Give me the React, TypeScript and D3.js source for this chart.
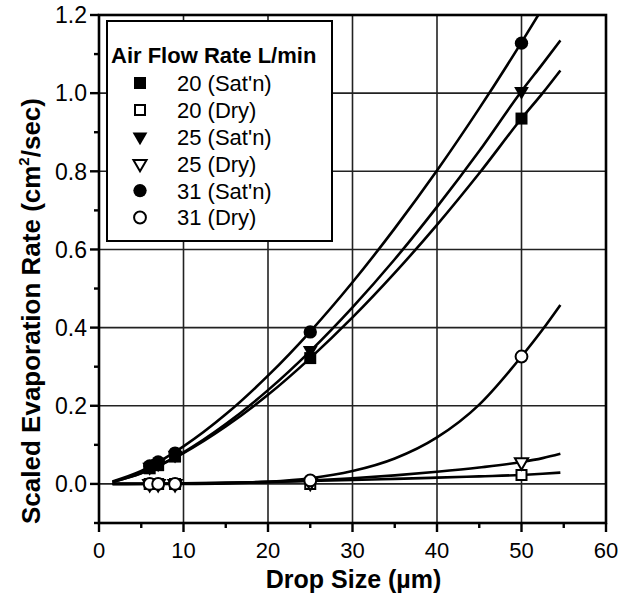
import React from "react";
import * as d3 from "d3";

// ---- data ----
const dropSizes = [6, 7, 9, 25, 50];
const sat20 = [0.040, 0.048, 0.070, 0.322, 0.935];
const dry20 = [0.0, 0.0, 0.0, 0.0, 0.023];
const sat25 = [0.043, 0.052, 0.074, 0.342, 1.005];
const dry25 = [0.0, 0.0, 0.0, 0.003, 0.056];
const sat31 = [0.046, 0.056, 0.079, 0.389, 1.128];
const dry31 = [0.0, 0.0, 0.0, 0.009, 0.326];

// fitted curves
const curveX = [1.6, 5, 10, 15, 20, 25, 30, 35, 40, 45, 50, 52.5, 54.6];
const fitSat20 = [0.005, 0.027, 0.079, 0.147, 0.228, 0.322, 0.426, 0.540, 0.663, 0.795, 0.935, 1.000, 1.058];
const fitSat25 = [0.005, 0.028, 0.081, 0.153, 0.240, 0.340, 0.452, 0.575, 0.709, 0.852, 1.005, 1.075, 1.135];
const fitSat31 = [0.006, 0.033, 0.096, 0.178, 0.277, 0.390, 0.516, 0.654, 0.802, 0.961, 1.130, 1.218, 1.293];
const fitDry20 = [0.0, 0.0005, 0.0017, 0.0032, 0.0052, 0.0074, 0.010, 0.0129, 0.016, 0.0194, 0.023, 0.026, 0.029];
const fitDry25 = [0.0, 0.0002, 0.0008, 0.0023, 0.0049, 0.0089, 0.0145, 0.0218, 0.031, 0.042, 0.056, 0.066, 0.077];
const fitDry31 = [0.0, 0.0, 0.0002, 0.0014, 0.0053, 0.0144, 0.0328, 0.065, 0.119, 0.203, 0.326, 0.395, 0.458];

const xTicks = [0, 10, 20, 30, 40, 50, 60];
const xMinor = [5, 15, 25, 35, 45, 55];
const yTicks = [0.0, 0.2, 0.4, 0.6, 0.8, 1.0, 1.2];
const yMinor = [-0.1, 0.1, 0.3, 0.5, 0.7, 0.9, 1.1];
const xGrid = [10, 20, 30, 40, 50];
const yGrid = [0.0, 0.2, 0.4, 0.6, 0.8, 1.0];

const legendTitle = "Air Flow Rate L/min";
const legendLabels = ["20 (Sat'n)", "20 (Dry)", "25 (Sat'n)", "25 (Dry)", "31 (Sat'n)", "31 (Dry)"];

const W = 620, H = 601;
const L = 99, R = 606, T = 15, B = 523;
const FONT = "'Liberation Sans', Arial, Helvetica, sans-serif";

type Kind = "square" | "tri" | "circle";

function Marker({ kind, filled, x, y }: { kind: Kind; filled: boolean; x: number; y: number }) {
  const fill = filled ? "#000" : "#fff";
  const stroke = "#000";
  const sw = filled ? 0 : 2;
  if (kind === "square") {
    const size = filled ? 144 : 100;
    const p = d3.symbol().type(d3.symbolSquare).size(size)() as string;
    return <path d={p} transform={`translate(${x},${y})`} fill={fill} stroke={stroke} strokeWidth={sw} />;
  }
  if (kind === "circle") {
    const size = filled ? 140 : 110;
    const p = d3.symbol().type(d3.symbolCircle).size(size)() as string;
    return <path d={p} transform={`translate(${x},${y})`} fill={fill} stroke={stroke} strokeWidth={sw} />;
  }
  const size = filled ? 95 : 75;
  const p = d3.symbol().type(d3.symbolTriangle).size(size)() as string;
  return <path d={p} transform={`translate(${x},${y}) rotate(180)`} fill={fill} stroke={stroke} strokeWidth={sw} strokeLinejoin="miter" />;
}

export default function App() {
  const x = d3.scaleLinear().domain([0, 60]).range([L, R]);
  const y = d3.scaleLinear().domain([-0.1, 1.2]).range([B, T]);
  const line = d3
    .line<[number, number]>()
    .x((d) => x(d[0]))
    .y((d) => y(d[1]))
    .curve(d3.curveMonotoneX);

  const fits = [fitSat20, fitSat25, fitSat31, fitDry20, fitDry25, fitDry31];
  const series: { vals: number[]; kind: Kind; filled: boolean }[] = [
    { vals: sat20, kind: "square", filled: true },
    { vals: dry20, kind: "square", filled: false },
    { vals: sat25, kind: "tri", filled: true },
    { vals: dry25, kind: "tri", filled: false },
    { vals: sat31, kind: "circle", filled: true },
    { vals: dry31, kind: "circle", filled: false },
  ];

  return (
    <svg width={W} height={H} style={{ display: "block", position: "absolute", left: 0, top: 0 }} fontFamily={FONT}>
      <rect x={0} y={0} width={W} height={H} fill="#fff" />
      <defs>
        <clipPath id="plotClip">
          <rect x={L} y={T} width={R - L} height={B - T} />
        </clipPath>
      </defs>
      {/* grid */}
      {xGrid.map((v) => (
        <line key={"gx" + v} x1={x(v)} x2={x(v)} y1={T} y2={B} stroke="#222" strokeWidth={1.6} />
      ))}
      {yGrid.map((v) => (
        <line key={"gy" + v} x1={L} x2={R} y1={y(v)} y2={y(v)} stroke="#222" strokeWidth={1.6} />
      ))}
      {/* fitted curves */}
      <g clipPath="url(#plotClip)">
        {fits.map((f, i) => (
          <path
            key={"f" + i}
            d={line(curveX.map((cx, j) => [cx, f[j]] as [number, number])) as string}
            fill="none"
            stroke="#000"
            strokeWidth={2.6}
          />
        ))}
      </g>
      {/* markers */}
      {series.map((s, i) =>
        s.vals.map((v, j) => (
          <Marker key={"m" + i + "_" + j} kind={s.kind} filled={s.filled} x={x(dropSizes[j])} y={y(v)} />
        ))
      )}
      {/* frame */}
      <rect x={L} y={T} width={R - L} height={B - T} fill="none" stroke="#000" strokeWidth={2.6} />
      {/* ticks */}
      {xTicks.map((v) => (
        <line key={"tx" + v} x1={x(v)} x2={x(v)} y1={B} y2={B + 9} stroke="#000" strokeWidth={2.4} />
      ))}
      {xMinor.map((v) => (
        <line key={"tmx" + v} x1={x(v)} x2={x(v)} y1={B} y2={B + 5} stroke="#000" strokeWidth={2.4} />
      ))}
      {yTicks.map((v) => (
        <line key={"ty" + v} x1={L - 9} x2={L} y1={y(v)} y2={y(v)} stroke="#000" strokeWidth={2.4} />
      ))}
      {yMinor.map((v) => (
        <line key={"tmy" + v} x1={L - 5} x2={L} y1={y(v)} y2={y(v)} stroke="#000" strokeWidth={2.4} />
      ))}
      {/* tick labels */}
      {xTicks.map((v) => (
        <text key={"lx" + v} x={x(v)} y={558} textAnchor="middle" fontSize={22}>
          {v}
        </text>
      ))}
      {yTicks.map((v) => (
        <text key={"ly" + v} x={87} y={y(v)} dy="0.36em" textAnchor="end" fontSize={23}>
          {v.toFixed(1)}
        </text>
      ))}
      {/* axis titles */}
      <text x={(L + R) / 2 + 1} y={588} textAnchor="middle" fontSize={25} fontWeight="bold">
        Drop Size (µm)
      </text>
      <text transform={`translate(40,311) rotate(-90)`} textAnchor="middle" fontSize={26} fontWeight="bold">
        Scaled Evaporation Rate (cm
        <tspan fontSize={15} dy={-11}>2</tspan>
        <tspan dy={11}>/sec)</tspan>
      </text>
      {/* legend */}
      <rect x={107} y={21} width={225} height={220} fill="#fff" stroke="#000" strokeWidth={2} />
      <text x={111} y={63} fontSize={22} fontWeight="bold">
        {legendTitle}
      </text>
      {legendLabels.map((lab, i) => {
        const ly = 83 + i * 26.9;
        const s = series[i];
        return (
          <g key={"lg" + i}>
            <Marker kind={s.kind} filled={s.filled} x={140} y={ly} />
            <text x={177} y={ly} dy="0.36em" fontSize={22}>
              {lab}
            </text>
          </g>
        );
      })}
    </svg>
  );
}
